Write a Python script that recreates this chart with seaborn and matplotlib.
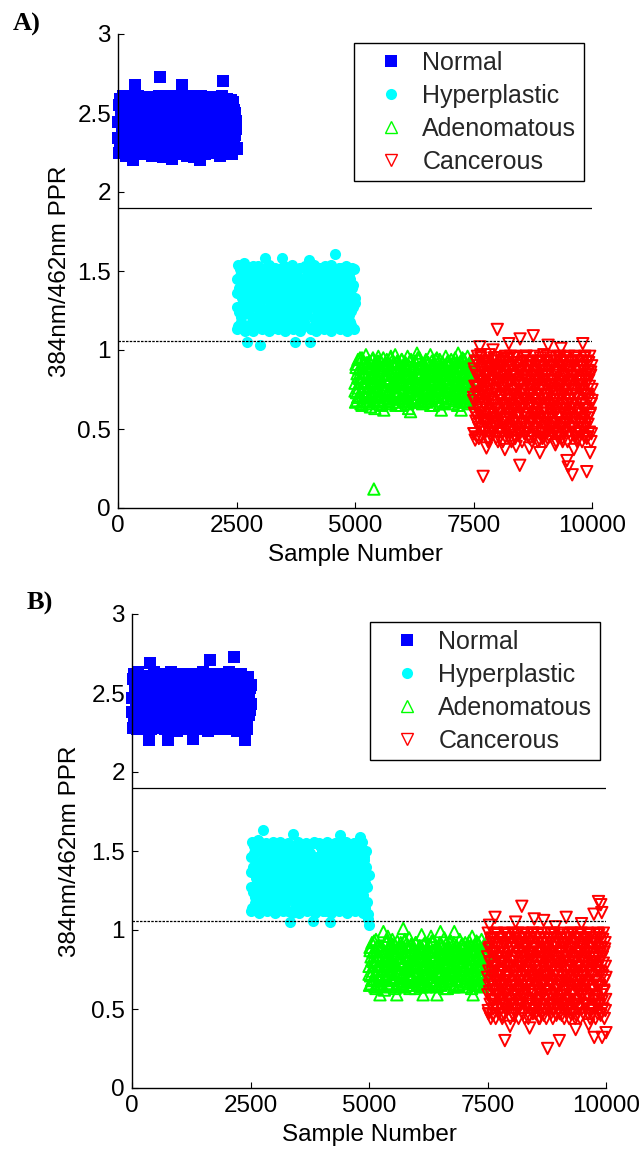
import numpy as np
import pandas as pd
import matplotlib
matplotlib.use("Agg")
import matplotlib.pyplot as plt
import seaborn as sns
from matplotlib.lines import Line2D

sns.set_theme(style="white")
plt.rcParams["font.family"] = ["Liberation Sans", "DejaVu Sans"]

# ---------------- data ----------------
categories = ["Normal", "Hyperplastic", "Adenomatous", "Cancerous"]
sample_ranges = [(1, 2500), (2501, 5000), (5001, 7500), (7501, 10000)]
thresholds = [1.9, 1.055]
x_ticks = [0, 2500, 5000, 7500, 10000]
y_ticks = [0, 0.5, 1, 1.5, 2, 2.5, 3]
y_tick_labels = ["0", "0.5", "1", "1.5", "2", "2.5", "3"]
panel_labels = ["A)", "B)"]

# Each group is read as two interleaved sample sub-series spanning its range.
normal_A = [
    2.44, 2.25, 2.59, 2.32, 2.52, 2.38, 2.60, 2.46, 2.23, 2.53,
    2.30, 2.39, 2.26, 2.51, 2.37, 2.58, 2.20, 2.32, 2.68, 2.45,
    2.36, 2.61, 2.24, 2.47, 2.31, 2.54, 2.50, 2.33, 2.45, 2.24,
    2.59, 2.39, 2.31, 2.58, 2.38, 2.52, 2.23, 2.46, 2.44, 2.25,
    2.60, 2.33, 2.51, 2.37, 2.54, 2.73, 2.29, 2.47, 2.22, 2.40,
    2.57, 2.33, 2.50, 2.26, 2.43, 2.36, 2.61, 2.21, 2.31, 2.53,
    2.46, 2.24, 2.39, 2.58, 2.52, 2.30, 2.25, 2.44, 2.68, 2.59,
    2.37, 2.32, 2.55, 2.23, 2.48, 2.40, 2.60, 2.29, 2.51, 2.36,
    2.45, 2.22, 2.58, 2.33, 2.49, 2.41, 2.26, 2.20, 2.61, 2.38,
    2.53, 2.30, 2.45, 2.24, 2.59, 2.35, 2.51, 2.42, 2.27, 2.57,
    2.32, 2.46, 2.38, 2.60, 2.25, 2.52, 2.31, 2.44, 2.23, 2.58,
    2.39, 2.50, 2.70, 2.34, 2.47, 2.26, 2.59, 2.37, 2.54, 2.30,
    2.44, 2.24, 2.57, 2.33, 2.50, 2.40, 2.28,
]
normal_A2 = [
    2.34, 2.55, 2.27, 2.48, 2.41, 2.61, 2.30, 2.52, 2.37, 2.24,
    2.48, 2.57, 2.34, 2.27, 2.44, 2.55, 2.40, 2.30, 2.60, 2.49,
    2.27, 2.42, 2.55, 2.34, 2.58, 2.47, 2.25, 2.38, 2.52, 2.31,
    2.45, 2.60, 2.28, 2.41, 2.55, 2.35, 2.48, 2.26, 2.58, 2.42,
    2.33, 2.51, 2.27, 2.45, 2.61, 2.38, 2.24, 2.55, 2.41, 2.30,
    2.48, 2.35, 2.59, 2.27, 2.44, 2.52, 2.31, 2.40, 2.57, 2.25,
    2.47, 2.34, 2.55, 2.28, 2.42, 2.60, 2.37, 2.50, 2.26, 2.45,
    2.33, 2.58, 2.41, 2.27, 2.53, 2.36, 2.48, 2.61, 2.30, 2.44,
    2.55, 2.26, 2.39, 2.51, 2.33, 2.58, 2.46, 2.28, 2.42, 2.55,
    2.35, 2.49, 2.27, 2.60, 2.41, 2.31, 2.54, 2.45, 2.25, 2.38,
    2.52, 2.29, 2.59, 2.42, 2.34, 2.48, 2.27, 2.56, 2.40, 2.31,
    2.45, 2.61, 2.28, 2.51, 2.36, 2.43, 2.55, 2.26, 2.47, 2.33,
    2.58, 2.40, 2.29, 2.52, 2.36, 2.45, 2.27,
]
hyper_A = [
    1.36, 1.13, 1.54, 1.24, 1.47, 1.18, 1.42, 1.30, 1.55, 1.12,
    1.37, 1.05, 1.49, 1.23, 1.31, 1.52, 1.17, 1.43, 1.12, 1.29,
    1.48, 1.36, 1.19, 1.53, 1.25, 1.03, 1.41, 1.13, 1.32, 1.47,
    1.58, 1.18, 1.37, 1.24, 1.54, 1.12, 1.43, 1.30, 1.49, 1.17,
    1.36, 1.52, 1.23, 1.42, 1.13, 1.31, 1.48, 1.19, 1.58, 1.37,
    1.25, 1.53, 1.12, 1.44, 1.30, 1.18, 1.49, 1.35, 1.24, 1.54,
    1.13, 1.41, 1.05, 1.29, 1.47, 1.19, 1.36, 1.52, 1.12, 1.24,
    1.43, 1.31, 1.18, 1.53, 1.37, 1.25, 1.48, 1.57, 1.05, 1.13,
    1.42, 1.30, 1.54, 1.19, 1.36, 1.12, 1.48, 1.24, 1.52, 1.31,
    1.17, 1.43, 1.37, 1.13, 1.53, 1.25, 1.47, 1.18, 1.30, 1.41,
    1.12, 1.54, 1.36, 1.23, 1.49, 1.61, 1.18, 1.42, 1.30, 1.52,
    1.13, 1.37, 1.24, 1.48, 1.19, 1.43, 1.53, 1.31, 1.12, 1.36,
    1.47, 1.18, 1.25, 1.52, 1.41, 1.13, 1.30,
]
hyper_A2 = [
    1.27, 1.45, 1.15, 1.39, 1.51, 1.21, 1.33, 1.48, 1.13, 1.42,
    1.24, 1.51, 1.33, 1.16, 1.45, 1.27, 1.39, 1.20, 1.53, 1.35,
    1.14, 1.45, 1.28, 1.50, 1.21, 1.39, 1.33, 1.16, 1.47, 1.26,
    1.52, 1.20, 1.40, 1.15, 1.33, 1.46, 1.27, 1.51, 1.22, 1.38,
    1.14, 1.45, 1.32, 1.50, 1.21, 1.27, 1.40, 1.15, 1.52, 1.34,
    1.22, 1.46, 1.28, 1.15, 1.39, 1.51, 1.33, 1.20, 1.45, 1.27,
    1.50, 1.14, 1.38, 1.25, 1.46, 1.33, 1.16, 1.52, 1.21, 1.40,
    1.28, 1.45, 1.15, 1.34, 1.51, 1.22, 1.39, 1.27, 1.48, 1.14,
    1.33, 1.45, 1.20, 1.51, 1.27, 1.39, 1.16, 1.46, 1.34, 1.22,
    1.52, 1.28, 1.40, 1.15, 1.45, 1.21, 1.33, 1.50, 1.26, 1.39,
    1.15, 1.47, 1.22, 1.34, 1.51, 1.28, 1.16, 1.41, 1.45, 1.21,
    1.33, 1.52, 1.26, 1.39, 1.15, 1.46, 1.28, 1.20, 1.50, 1.34,
    1.22, 1.45, 1.16, 1.39, 1.27, 1.51, 1.33,
]
adeno_A = [
    0.79, 0.67, 0.91, 0.73, 0.85, 0.70, 0.94, 0.76, 0.88, 0.82,
    0.71, 0.89, 0.66, 0.83, 0.95, 0.74, 0.86, 0.68, 0.80, 0.92,
    0.85, 0.73, 0.97, 0.79, 0.67, 0.90, 0.76, 0.82, 0.70, 0.93,
    0.77, 0.64, 0.88, 0.71, 0.84, 0.94, 0.80, 0.68, 0.12, 0.91,
    0.63, 0.86, 0.74, 0.92, 0.79, 0.70, 0.83, 0.96, 0.67, 0.89,
    0.76, 0.93, 0.72, 0.81, 0.66, 0.87, 0.78, 0.95, 0.62, 0.84,
    0.70, 0.90, 0.75, 0.85, 0.94, 0.68, 0.80, 0.73, 0.91, 0.87,
    0.82, 0.66, 0.95, 0.77, 0.71, 0.88, 0.84, 0.69, 0.92, 0.79,
    0.74, 0.97, 0.86, 0.67, 0.81, 0.93, 0.72, 0.89, 0.76, 0.83,
    0.91, 0.70, 0.79, 0.65, 0.94, 0.85, 0.73, 0.88, 0.80, 0.68,
    0.87, 0.76, 0.92, 0.71, 0.83, 0.67, 0.96, 0.78, 0.63, 0.90,
    0.73, 0.84, 0.61, 0.94, 0.79, 0.69, 0.88, 0.75, 0.91, 0.82,
    0.67, 0.93, 0.80, 0.86, 0.72, 0.98, 0.77, 0.70, 0.89, 0.83,
    0.95, 0.74, 0.85, 0.68, 0.91, 0.79, 0.66, 0.88, 0.82, 0.71,
    0.78, 0.90, 0.73, 0.94, 0.84, 0.67, 0.87, 0.76, 0.92, 0.81,
    0.69, 0.86, 0.97, 0.75, 0.80, 0.93, 0.71, 0.84, 0.65, 0.89,
    0.83, 0.72, 0.91, 0.78, 0.68, 0.95, 0.87, 0.74, 0.81, 0.90,
    0.76, 0.94, 0.66, 0.85, 0.62, 0.79, 0.92, 0.70, 0.88, 0.73,
    0.90, 0.67, 0.82, 0.96, 0.75, 0.87, 0.71, 0.93, 0.79, 0.84,
    0.68, 0.91, 0.77, 0.85, 0.94, 0.72, 0.81, 0.66, 0.89, 0.75,
    0.86, 0.73, 0.95, 0.80, 0.69, 0.92, 0.83, 0.76, 0.98, 0.70,
    0.79, 0.88, 0.67, 0.93, 0.62, 0.84, 0.74, 0.90, 0.71, 0.82,
    0.94, 0.77, 0.86, 0.68, 0.91, 0.80, 0.73, 0.96, 0.85, 0.66,
    0.83, 0.70, 0.89, 0.75, 0.92, 0.78, 0.87, 0.69, 0.94, 0.81,
]
adeno_A2 = [
    0.74, 0.89, 0.68, 0.83, 0.71, 0.95, 0.80, 0.65, 0.92, 0.77,
    0.86, 0.70, 0.92, 0.76, 0.66, 0.89, 0.82, 0.73, 0.95, 0.79,
    0.68, 0.84, 0.77, 0.93, 0.71, 0.87, 0.65, 0.80, 0.90, 0.74,
    0.91, 0.75, 0.82, 0.67, 0.88, 0.72, 0.96, 0.79, 0.69, 0.85,
    0.78, 0.65, 0.92, 0.73, 0.86, 0.81, 0.69, 0.94, 0.76, 0.88,
    0.71, 0.90, 0.84, 0.66, 0.79, 0.93, 0.74, 0.87, 0.68, 0.82,
    0.89, 0.72, 0.77, 0.95, 0.67, 0.84, 0.80, 0.70, 0.91, 0.75,
    0.83, 0.68, 0.93, 0.78, 0.72, 0.86, 0.65, 0.90, 0.81, 0.74,
    0.76, 0.94, 0.70, 0.85, 0.79, 0.66, 0.89, 0.73, 0.92, 0.82,
    0.67, 0.87, 0.80, 0.71, 0.93, 0.77, 0.84, 0.69, 0.88, 0.75,
    0.92, 0.74, 0.86, 0.65, 0.81, 0.90, 0.72, 0.78, 0.95, 0.68,
    0.79, 0.89, 0.67, 0.83, 0.74, 0.92, 0.70, 0.85, 0.77, 0.87,
]
cancer_A = [
    0.70, 0.47, 0.88, 0.60, 0.77, 0.43, 0.93, 0.55, 0.72, 0.84, 0.45, 0.64, 0.96, 0.57, 0.76, 0.51, 0.90, 0.66, 0.81, 1.02,
    0.80, 0.58, 0.97, 0.45, 0.73, 0.63, 0.86, 0.50, 0.78, 0.20, 0.66, 0.91, 0.54, 0.75, 0.93, 0.60, 0.48, 0.84, 0.69, 0.38,
    0.55, 0.74, 0.90, 0.67, 0.42, 0.85, 0.60, 0.97, 0.48, 0.69, 0.81, 0.56, 0.88, 0.45, 0.72, 0.93, 0.63, 0.51, 0.78, 1.00,
    0.82, 0.65, 0.90, 0.52, 0.75, 0.57, 0.95, 0.63, 0.44, 0.85, 0.72, 0.54, 1.13, 0.93, 0.42, 0.79, 0.60, 0.87, 0.48, 0.70,
    0.68, 0.84, 0.49, 0.60, 0.93, 0.76, 0.54, 0.90, 0.66, 0.42, 0.78, 0.51, 0.87, 0.63, 0.72, 0.37, 0.45, 0.96, 0.57, 0.81,
    0.78, 0.50, 0.63, 0.94, 0.72, 0.45, 0.87, 1.04, 0.57, 0.81, 0.69, 0.48, 0.96, 0.60, 0.84, 0.42, 0.66, 0.90, 0.75, 0.54,
    0.43, 0.92, 0.54, 0.71, 0.84, 0.46, 0.63, 0.96, 0.57, 0.39, 0.75, 0.51, 0.90, 0.66, 0.81, 0.69, 0.48, 0.87, 0.60, 0.78,
    0.27, 1.07, 0.72, 0.62, 0.87, 0.51, 0.79, 0.42, 0.66, 0.90, 0.54, 0.75, 0.93, 0.60, 0.47, 0.84, 0.69, 0.81, 0.57, 0.96,
    0.96, 0.48, 0.69, 0.81, 0.57, 0.87, 0.45, 0.72, 0.93, 0.38, 0.63, 0.51, 0.78, 0.54, 0.75, 0.90, 0.66, 0.42, 0.84, 0.60,
    0.45, 1.09, 0.63, 0.96, 0.57, 0.75, 0.51, 0.90, 0.66, 0.81, 0.69, 0.48, 0.87, 0.60, 0.78, 0.42, 0.93, 0.54, 0.72, 0.84,
    0.43, 0.35, 0.66, 0.89, 0.54, 0.76, 0.93, 0.60, 0.48, 0.84, 0.69, 0.81, 0.57, 0.97, 0.45, 0.72, 0.63, 0.87, 0.51, 0.78,
    0.42, 0.84, 0.60, 0.96, 0.48, 0.69, 1.03, 0.81, 0.57, 0.87, 0.45, 0.72, 0.93, 0.63, 0.51, 0.78, 0.54, 0.75, 0.90, 0.66,
    0.51, 0.90, 0.66, 0.81, 0.69, 0.48, 0.87, 0.60, 0.40, 0.78, 0.42, 0.93, 0.54, 0.72, 0.84, 0.45, 0.63, 0.96, 0.57, 0.75,
    0.80, 0.57, 0.96, 0.45, 0.72, 1.01, 0.63, 0.87, 0.51, 0.78, 0.42, 0.66, 0.90, 0.54, 0.75, 0.93, 0.60, 0.48, 0.84, 0.69,
    0.54, 0.75, 0.90, 0.30, 0.66, 0.42, 0.84, 0.26, 0.60, 0.96, 0.48, 0.69, 0.81, 0.57, 0.87, 0.45, 0.72, 0.93, 0.63, 0.21,
    0.81, 0.66, 0.90, 0.51, 0.37, 0.75, 0.57, 0.96, 0.63, 0.45, 0.84, 0.72, 0.54, 0.93, 0.42, 0.78, 0.60, 0.87, 0.48, 0.69,
    0.69, 0.84, 0.48, 0.60, 0.93, 0.75, 0.54, 0.90, 0.66, 0.42, 0.78, 1.04, 0.51, 0.87, 0.63, 0.72, 0.45, 0.96, 0.57, 0.81,
    0.78, 0.51, 0.63, 0.23, 0.93, 0.72, 0.45, 0.87, 0.57, 0.81, 0.69, 0.48, 0.96, 0.35, 0.60, 0.84, 0.42, 0.66, 0.90, 0.75,
]
cancer_A2 = [
    0.68, 0.47, 0.86, 0.59, 0.77, 0.92, 0.53, 0.71, 0.44, 0.83, 0.62, 0.95, 0.50, 0.74, 0.89, 0.56, 0.80, 0.65,
    0.83, 0.56, 0.71, 0.92, 0.44, 0.65, 0.77, 0.50, 0.89, 0.59, 0.80, 0.47, 0.68, 0.95, 0.53, 0.74, 0.62, 0.86,
    0.53, 0.80, 0.62, 0.44, 0.89, 0.71, 0.95, 0.47, 0.74, 0.56, 0.83, 0.65, 0.92, 0.50, 0.77, 0.59, 0.86, 0.68,
    0.65, 0.80, 0.56, 0.89, 0.74, 0.50, 0.95, 0.62, 0.83, 0.44, 0.71, 0.53, 0.92, 0.77, 0.59, 0.86, 0.47, 0.68,
    0.86, 0.62, 0.74, 0.53, 0.95, 0.68, 0.47, 0.80, 0.59, 0.89, 0.50, 0.77, 0.65, 0.44, 0.92, 0.71, 0.56, 0.83,
    0.68, 0.86, 0.59, 0.77, 0.50, 0.92, 0.65, 0.83, 0.56, 0.74, 0.47, 0.95, 0.71, 0.89, 0.44, 0.62, 0.80, 0.53,
    0.83, 0.56, 0.71, 0.92, 0.44, 0.65, 0.77, 0.50, 0.89, 0.59, 0.80, 0.47, 0.68, 0.95, 0.53, 0.74, 0.62, 0.86,
    0.68, 0.47, 0.86, 0.59, 0.77, 0.92, 0.53, 0.71, 0.44, 0.83, 0.62, 0.95, 0.50, 0.74, 0.89, 0.56, 0.80, 0.65,
    0.68, 0.86, 0.59, 0.77, 0.50, 0.92, 0.65, 0.83, 0.56, 0.74, 0.47, 0.95, 0.71, 0.89, 0.44, 0.62, 0.80, 0.53,
    0.65, 0.80, 0.56, 0.89, 0.74, 0.50, 0.95, 0.62, 0.83, 0.44, 0.71, 0.53, 0.92, 0.77, 0.59, 0.86, 0.47, 0.68,
]

normal_B = [
    2.47, 2.28, 2.62, 2.35, 2.55, 2.41, 2.63, 2.49, 2.27, 2.56,
    2.34, 2.42, 2.29, 2.54, 2.40, 2.61, 2.48, 2.36, 2.20, 2.69,
    2.27, 2.57, 2.43, 2.63, 2.34, 2.50, 2.56, 2.36, 2.48, 2.28,
    2.62, 2.42, 2.35, 2.61, 2.41, 2.55, 2.27, 2.49, 2.20, 2.47,
    2.28, 2.63, 2.36, 2.54, 2.40, 2.57, 2.33, 2.50, 2.26, 2.43,
    2.60, 2.36, 2.53, 2.29, 2.46, 2.39, 2.62, 2.34, 2.56, 2.28,
    2.49, 2.27, 2.42, 2.61, 2.55, 2.21, 2.33, 2.47, 2.29, 2.62,
    2.40, 2.35, 2.58, 2.27, 2.51, 2.43, 2.63, 2.32, 2.54, 2.39,
    2.48, 2.26, 2.61, 2.71, 2.36, 2.52, 2.44, 2.29, 2.62, 2.41,
    2.56, 2.33, 2.48, 2.27, 2.62, 2.38, 2.54, 2.45, 2.30, 2.60,
    2.35, 2.49, 2.41, 2.63, 2.28, 2.55, 2.34, 2.47, 2.73, 2.61,
    2.42, 2.53, 2.26, 2.37, 2.50, 2.29, 2.62, 2.40, 2.57, 2.33,
    2.20, 2.46, 2.27, 2.60, 2.36, 2.53, 2.43,
]
normal_B2 = [
    2.38, 2.59, 2.31, 2.52, 2.45, 2.27, 2.62, 2.35, 2.56, 2.42,
    2.31, 2.49, 2.60, 2.38, 2.28, 2.53, 2.45, 2.34, 2.61, 2.41,
    2.52, 2.30, 2.59, 2.45, 2.37, 2.56, 2.28, 2.49, 2.62, 2.33,
    2.44, 2.58, 2.31, 2.52, 2.39, 2.27, 2.61, 2.46, 2.35, 2.55,
    2.30, 2.42, 2.59, 2.37, 2.50, 2.28, 2.62, 2.45, 2.33, 2.56,
    2.39, 2.52, 2.29, 2.60, 2.43, 2.35, 2.55, 2.31, 2.48, 2.62,
    2.37, 2.27, 2.58, 2.44, 2.32, 2.52, 2.40, 2.61, 2.29, 2.49,
    2.56, 2.34, 2.45, 2.60, 2.30, 2.41, 2.53, 2.27, 2.62, 2.38,
    2.47, 2.31, 2.58, 2.43, 2.35, 2.55, 2.28, 2.50, 2.61, 2.39,
    2.32, 2.57, 2.45, 2.29, 2.52, 2.36, 2.60, 2.42, 2.30, 2.55,
    2.48, 2.27, 2.62, 2.38, 2.45, 2.59, 2.33, 2.51, 2.40, 2.28,
    2.57, 2.35, 2.46, 2.61, 2.31, 2.53, 2.41, 2.29, 2.58, 2.44,
    2.36, 2.52, 2.30, 2.60, 2.47, 2.39, 2.55,
]
hyper_B = [
    1.37, 1.12, 1.56, 1.24, 1.49, 1.17, 1.43, 1.30, 1.57, 1.11,
    1.38, 1.18, 1.50, 1.63, 1.24, 1.31, 1.55, 1.12, 1.44, 1.17,
    1.30, 1.50, 1.37, 1.18, 1.56, 1.25, 1.11, 1.43, 1.31, 1.49,
    1.17, 1.56, 1.36, 1.24, 1.12, 1.44, 1.30, 1.50, 1.18, 1.37,
    1.55, 1.25, 1.05, 1.43, 1.11, 1.61, 1.31, 1.49, 1.17, 1.36,
    1.24, 1.56, 1.11, 1.44, 1.30, 1.18, 1.50, 1.37, 1.25, 1.55,
    1.12, 1.43, 1.31, 1.49, 1.17, 1.36, 1.06, 1.56, 1.24, 1.11,
    1.44, 1.30, 1.18, 1.55, 1.37, 1.25, 1.50, 1.12, 1.43, 1.31,
    1.17, 1.56, 1.36, 1.24, 1.05, 1.49, 1.11, 1.44, 1.30, 1.18,
    1.50, 1.37, 1.25, 1.55, 1.12, 1.60, 1.43, 1.31, 1.17, 1.49,
    1.36, 1.24, 1.56, 1.11, 1.44, 1.30, 1.18, 1.50, 1.37, 1.25,
    1.55, 1.12, 1.43, 1.31, 1.17, 1.49, 1.59, 1.36, 1.24, 1.56,
    1.11, 1.44, 1.30, 1.50, 1.18, 1.07, 1.03,
]
hyper_B2 = [
    1.27, 1.46, 1.14, 1.40, 1.53, 1.21, 1.33, 1.50, 1.12, 1.43,
    1.24, 1.55, 1.33, 1.16, 1.46, 1.27, 1.40, 1.20, 1.54, 1.35,
    1.13, 1.47, 1.28, 1.52, 1.21, 1.40, 1.33, 1.15, 1.49, 1.26,
    1.55, 1.20, 1.41, 1.14, 1.33, 1.47, 1.27, 1.53, 1.22, 1.38,
    1.12, 1.46, 1.32, 1.52, 1.21, 1.27, 1.41, 1.14, 1.54, 1.34,
    1.22, 1.47, 1.28, 1.14, 1.40, 1.53, 1.33, 1.20, 1.46, 1.27,
    1.51, 1.13, 1.38, 1.25, 1.47, 1.33, 1.16, 1.55, 1.21, 1.41,
    1.28, 1.46, 1.14, 1.34, 1.53, 1.22, 1.40, 1.27, 1.49, 1.12,
    1.33, 1.46, 1.20, 1.54, 1.27, 1.40, 1.15, 1.47, 1.34, 1.22,
    1.55, 1.28, 1.41, 1.14, 1.46, 1.21, 1.33, 1.52, 1.26, 1.40,
    1.13, 1.48, 1.22, 1.34, 1.53, 1.28, 1.15, 1.42, 1.46, 1.21,
    1.33, 1.55, 1.26, 1.40, 1.14, 1.47, 1.28, 1.20, 1.52, 1.34,
    1.22, 1.46, 1.14, 1.40, 1.27, 1.10, 1.35,
]
adeno_B = [
    0.77, 0.65, 0.89, 0.71, 0.83, 0.68, 0.92, 0.74, 0.86, 0.80,
    0.69, 0.87, 0.64, 0.81, 0.94, 0.72, 0.84, 0.66, 0.78, 0.90,
    0.83, 0.71, 0.59, 0.77, 0.65, 0.88, 0.74, 0.80, 0.68, 0.99,
    0.75, 0.62, 0.86, 0.69, 0.82, 0.92, 0.78, 0.66, 0.96, 0.89,
    0.72, 0.84, 0.65, 0.90, 0.77, 0.68, 0.81, 0.94, 0.70, 0.87,
    0.74, 0.91, 0.70, 0.79, 0.64, 0.85, 0.59, 0.93, 0.76, 0.82,
    0.68, 0.88, 0.73, 0.83, 0.92, 0.66, 0.78, 0.71, 0.89, 1.01,
    0.80, 0.64, 0.93, 0.75, 0.69, 0.86, 0.82, 0.67, 0.90, 0.77,
    0.72, 0.95, 0.84, 0.65, 0.79, 0.91, 0.70, 0.87, 0.74, 0.81,
    0.89, 0.68, 0.77, 0.63, 0.92, 0.83, 0.71, 0.86, 0.78, 0.66,
    0.85, 0.74, 0.90, 0.69, 0.81, 0.65, 0.97, 0.76, 0.88, 0.59,
    0.71, 0.82, 0.67, 0.92, 0.77, 0.64, 0.86, 0.73, 0.89, 0.80,
    0.65, 0.91, 0.78, 0.84, 0.70, 0.96, 0.75, 0.68, 0.87, 0.81,
    0.93, 0.72, 0.83, 0.66, 0.89, 0.77, 0.64, 0.59, 0.86, 0.80,
    0.76, 0.88, 0.71, 0.92, 0.99, 0.65, 0.85, 0.74, 0.90, 0.79,
    0.67, 0.84, 0.95, 0.73, 0.78, 0.91, 0.69, 0.82, 0.63, 0.87,
    0.81, 0.70, 0.89, 0.76, 0.66, 0.93, 0.85, 0.72, 0.79, 0.88,
    0.74, 0.92, 0.99, 0.64, 0.83, 0.77, 0.90, 0.68, 0.86, 0.71,
    0.88, 0.65, 0.80, 0.94, 0.73, 0.85, 0.69, 0.91, 0.77, 0.82,
    0.66, 0.89, 0.75, 0.83, 0.92, 0.70, 0.79, 0.64, 0.87, 0.73,
    0.84, 0.71, 0.93, 0.78, 0.67, 0.90, 0.81, 0.74, 0.96, 0.68,
    0.59, 0.86, 0.77, 0.65, 0.91, 0.82, 0.72, 0.88, 0.69, 0.80,
    0.92, 0.75, 0.84, 0.66, 0.89, 0.78, 0.71, 0.94, 0.83, 0.64,
    0.81, 0.68, 0.87, 0.73, 0.90, 0.76, 0.85, 0.67, 0.92, 0.79,
]
adeno_B2 = [
    0.72, 0.87, 0.66, 0.81, 0.69, 0.93, 0.78, 0.63, 0.90, 0.75,
    0.84, 0.68, 0.90, 0.74, 0.64, 0.87, 0.80, 0.71, 0.93, 0.77,
    0.66, 0.82, 0.75, 0.91, 0.69, 0.85, 0.63, 0.78, 0.88, 0.72,
    0.89, 0.73, 0.80, 0.65, 0.86, 0.70, 0.94, 0.77, 0.67, 0.83,
    0.76, 0.63, 0.90, 0.71, 0.84, 0.79, 0.67, 0.92, 0.74, 0.86,
    0.69, 0.88, 0.82, 0.64, 0.77, 0.91, 0.72, 0.85, 0.66, 0.80,
    0.87, 0.70, 0.75, 0.93, 0.65, 0.82, 0.78, 0.68, 0.89, 0.73,
    0.81, 0.66, 0.91, 0.76, 0.70, 0.84, 0.63, 0.88, 0.79, 0.72,
    0.74, 0.92, 0.68, 0.83, 0.77, 0.64, 0.87, 0.71, 0.90, 0.80,
    0.65, 0.85, 0.78, 0.69, 0.91, 0.75, 0.82, 0.67, 0.86, 0.73,
    0.90, 0.72, 0.84, 0.63, 0.79, 0.88, 0.70, 0.76, 0.93, 0.66,
    0.77, 0.87, 0.65, 0.81, 0.72, 0.90, 0.68, 0.83, 0.75, 0.85,
]
cancer_B = [
    0.83, 0.59, 0.98, 0.47, 0.74, 0.65, 1.03, 0.89, 0.53, 0.80, 0.44, 0.68, 0.92, 0.56, 0.77, 0.95, 0.62, 0.50, 0.86, 0.71,
    0.56, 0.77, 0.92, 1.08, 0.68, 0.44, 0.86, 0.62, 0.98, 0.50, 0.71, 0.83, 0.59, 0.89, 0.47, 0.74, 0.95, 0.65, 0.53, 0.80,
    0.71, 0.50, 0.89, 0.62, 0.80, 0.44, 0.95, 0.56, 0.74, 0.86, 0.47, 0.65, 0.98, 0.30, 0.59, 0.77, 0.53, 0.92, 0.68, 0.83,
    0.71, 0.86, 0.50, 0.62, 0.95, 0.77, 0.56, 0.92, 0.68, 0.39, 0.44, 0.80, 0.53, 0.89, 0.65, 0.74, 0.47, 0.98, 0.59, 0.83,
    0.80, 0.53, 0.65, 0.95, 0.74, 0.47, 1.05, 0.89, 0.59, 0.83, 0.71, 0.50, 0.98, 0.62, 0.86, 0.44, 0.68, 0.92, 0.77, 0.56,
    0.83, 0.68, 0.92, 0.53, 0.77, 1.15, 0.59, 0.98, 0.65, 0.47, 0.86, 0.74, 0.56, 0.95, 0.44, 0.80, 0.62, 0.89, 0.50, 0.71,
    0.74, 0.65, 0.89, 0.53, 0.80, 0.44, 0.68, 0.92, 0.56, 0.38, 0.77, 0.95, 0.62, 0.50, 0.86, 0.71, 0.83, 0.59, 0.98, 0.47,
    0.98, 0.50, 0.71, 1.07, 0.83, 0.59, 0.89, 0.47, 0.74, 0.95, 0.65, 0.53, 0.80, 0.56, 0.77, 0.92, 0.68, 0.44, 0.86, 0.62,
    0.44, 0.95, 0.56, 0.74, 0.86, 0.47, 0.65, 0.98, 0.59, 0.77, 0.53, 0.92, 1.06, 0.68, 0.83, 0.71, 0.50, 0.89, 0.62, 0.80,
    0.44, 0.68, 0.92, 0.56, 0.25, 0.77, 0.95, 0.62, 0.50, 0.86, 0.71, 0.83, 0.59, 0.98, 0.47, 0.74, 0.65, 0.89, 0.53, 0.80,
    0.44, 0.86, 0.62, 0.98, 0.50, 0.71, 0.83, 0.59, 1.02, 0.89, 0.47, 0.74, 0.95, 0.65, 0.53, 0.80, 0.56, 0.77, 0.92, 0.68,
    0.30, 0.47, 0.65, 0.98, 0.59, 0.77, 0.53, 0.92, 0.68, 0.83, 0.71, 0.50, 0.89, 0.62, 0.80, 0.44, 0.95, 0.56, 0.74, 0.86,
    0.53, 1.08, 0.92, 0.68, 0.83, 0.71, 0.50, 0.89, 0.62, 0.80, 0.44, 0.95, 0.56, 0.74, 0.86, 0.47, 0.65, 0.98, 0.59, 0.77,
    0.83, 0.59, 0.98, 0.47, 0.74, 0.65, 0.89, 0.53, 0.80, 0.44, 0.37, 0.68, 0.92, 0.56, 0.77, 0.95, 0.62, 0.50, 0.86, 0.71,
    0.56, 0.77, 0.92, 0.68, 0.44, 0.86, 0.62, 0.98, 1.04, 0.50, 0.71, 0.83, 0.59, 0.89, 0.47, 0.74, 0.95, 0.65, 0.53, 0.80,
    0.83, 0.68, 0.92, 0.53, 0.77, 0.59, 0.98, 0.65, 0.47, 0.86, 0.40, 0.74, 0.56, 0.95, 0.44, 0.80, 0.62, 0.89, 0.50, 0.71,
    0.71, 0.86, 0.50, 0.62, 0.95, 0.77, 1.10, 0.32, 0.56, 0.92, 0.68, 0.44, 0.80, 0.53, 0.89, 0.65, 0.74, 0.47, 0.98, 0.83,
    1.18, 0.80, 0.53, 0.65, 0.95, 0.74, 0.47, 1.16, 0.89, 0.59, 1.11, 0.32, 0.83, 0.71, 0.50, 0.98, 0.62, 0.86, 0.44, 0.68,
    0.92, 0.77, 0.56, 0.35,
]
cancer_B2 = [
    0.70, 0.49, 0.88, 0.61, 0.79, 0.94, 0.55, 0.73, 0.46, 0.85, 0.64, 0.97, 0.52, 0.76, 0.91, 0.58, 0.82, 0.67,
    0.85, 0.58, 0.73, 0.94, 0.46, 0.67, 0.79, 0.52, 0.91, 0.61, 0.82, 0.49, 0.70, 0.97, 0.55, 0.76, 0.64, 0.88,
    0.55, 0.82, 0.64, 0.46, 0.91, 0.73, 0.97, 0.49, 0.76, 0.58, 0.85, 0.67, 0.94, 0.52, 0.79, 0.61, 0.88, 0.70,
    0.67, 0.82, 0.58, 0.91, 0.76, 0.52, 0.97, 0.64, 0.85, 0.46, 0.73, 0.55, 0.94, 0.79, 0.61, 0.88, 0.49, 0.70,
    0.88, 0.64, 0.76, 0.55, 0.97, 0.70, 0.49, 0.82, 0.61, 0.91, 0.52, 0.79, 0.67, 0.46, 0.94, 0.73, 0.58, 0.85,
    0.70, 0.88, 0.61, 0.79, 0.52, 0.94, 0.67, 0.85, 0.58, 0.76, 0.49, 0.97, 0.73, 0.91, 0.46, 0.64, 0.82, 0.55,
    0.85, 0.58, 0.73, 0.94, 0.46, 0.67, 0.79, 0.52, 0.91, 0.61, 0.82, 0.49, 0.70, 0.97, 0.55, 0.76, 0.64, 0.88,
    0.70, 0.49, 0.88, 0.61, 0.79, 0.94, 0.55, 0.73, 0.46, 0.85, 0.64, 0.97, 0.52, 0.76, 0.91, 0.58, 0.82, 0.67,
    0.70, 0.88, 0.61, 0.79, 0.52, 0.94, 0.67, 0.85, 0.58, 0.76, 0.49, 0.97, 0.73, 0.91, 0.46, 0.64, 0.82, 0.55,
    0.67, 0.82, 0.58, 0.91, 0.76, 0.52, 0.97, 0.64, 0.85, 0.46, 0.73, 0.55, 0.94, 0.79, 0.61, 0.88, 0.49, 0.70,
]

panels = [
    [[normal_A, normal_A2], [hyper_A, hyper_A2], [adeno_A, adeno_A2], [cancer_A, cancer_A2]],
    [[normal_B, normal_B2], [hyper_B, hyper_B2], [adeno_B, adeno_B2], [cancer_B, cancer_B2]],
]

# ---------------- style ----------------
colors = ["#0000ff", "#00ffff", "#00ff00", "#ff0000"]
markers = ["s", "o", "^", "v"]
filled = [True, True, False, False]
msize = [8.6, 8.0, 8.2, 8.2]
FS = 17.5


def build_frame(series):
    parts = []
    for cat, (lo, hi), lists in zip(categories, sample_ranges, series):
        for ys in lists:
            xs = np.linspace(lo, hi, len(ys))
            parts.append(pd.DataFrame({"sample": xs, "ppr": ys, "group": cat}))
    return pd.concat(parts, ignore_index=True)


fig = plt.figure(figsize=(6.44, 11.52), dpi=100)
W, H = 644.0, 1152.0
axes_px = [(118, 34, 474, 474), (132, 614, 474, 474)]
legend_anchor = [(0.983, 0.981), (0.987, 0.983)]
label_pos = [(13, 24), (27, 603)]
ylabel_x = [-0.122, -0.13]

for p, series in enumerate(panels):
    x0, ytop, w, h = axes_px[p]
    ax = fig.add_axes([x0 / W, 1 - (ytop + h) / H, w / W, h / H])
    df = build_frame(series)
    for cat, c, m, f, ms in zip(categories, colors, markers, filled, msize):
        sub = df[df["group"] == cat]
        if f:
            sns.scatterplot(data=sub, x="sample", y="ppr", ax=ax, marker=m,
                            s=ms ** 2, color=c, linewidth=0, legend=False,
                            clip_on=False, zorder=2)
        else:
            sns.scatterplot(data=sub, x="sample", y="ppr", ax=ax, marker=m,
                            s=ms ** 2, facecolors="none", edgecolors=c,
                            linewidth=1.4, legend=False, clip_on=False,
                            zorder=2)
    ax.hlines(thresholds[0], 0, 10000, colors="black", linewidth=0.9, zorder=3)
    ax.hlines(thresholds[1], 0, 10000, colors="black", linewidth=0.9,
              linestyles=(0, (2, 1)), zorder=3)

    ax.set_xlim(0, 10000)
    ax.set_ylim(0, 3)
    ax.set_xticks(x_ticks)
    ax.set_xticklabels([str(t) for t in x_ticks])
    ax.set_yticks(y_ticks)
    ax.set_yticklabels(y_tick_labels)
    for side in ["top", "right"]:
        ax.spines[side].set_visible(False)
    for side in ["left", "bottom"]:
        ax.spines[side].set_color("black")
        ax.spines[side].set_linewidth(1.0)
    ax.tick_params(direction="in", length=4, width=0.8, colors="black",
                   labelsize=FS, pad=5, left=True, bottom=True)
    ax.set_xlabel("Sample Number", fontsize=FS, color="black")
    ax.set_ylabel("384nm/462nm PPR", fontsize=FS, color="black")
    ax.xaxis.set_label_coords(0.5, -0.099)
    ax.xaxis.label.set_va("center")
    ax.yaxis.set_label_coords(ylabel_x[p], 0.5)
    ax.yaxis.label.set_va("center")

    handles = [
        Line2D([], [], linestyle="none", marker=m, markersize=ms,
               markerfacecolor=(c if f else "none"), markeredgecolor=c,
               markeredgewidth=(0 if f else 1.0))
        for c, m, f, ms in zip(colors, markers, filled, msize)
    ]
    leg = ax.legend(handles, categories, loc="upper right",
                    bbox_to_anchor=legend_anchor[p], borderaxespad=0,
                    prop={"size": 18}, frameon=True, fancybox=False,
                    framealpha=1, edgecolor="black", borderpad=0.3,
                    labelspacing=0.36, handlelength=2.36, handletextpad=0.06)
    leg.get_frame().set_linewidth(1.0)
    leg.set_zorder(5)

    lx, ly = label_pos[p]
    fig.text(lx / W, 1 - ly / H, panel_labels[p], fontsize=19,
             fontweight="bold", family=["Liberation Serif", "DejaVu Serif"],
             ha="left", va="center", color="black")

fig.savefig("out.png", dpi=100)
